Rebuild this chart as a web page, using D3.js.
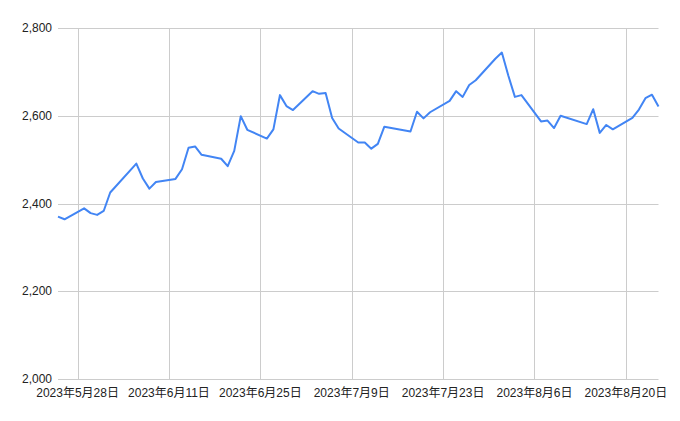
<!DOCTYPE html>
<html>
<head>
<meta charset="utf-8">
<script src="https://cdn.jsdelivr.net/npm/d3@7"></script>
<style>
  body { margin: 0; background: #fff; }
  text { font-family: "Liberation Sans", Arial, "Noto Sans CJK JP", sans-serif; font-size: 12px; fill: #222; }
</style>
</head>
<body>
<svg width="680" height="421"></svg>
<script>
const dates = [
  "2023-05-25","2023-05-26","2023-05-29","2023-05-30","2023-05-31","2023-06-01","2023-06-02",
  "2023-06-06","2023-06-07","2023-06-08","2023-06-09","2023-06-12","2023-06-13","2023-06-14",
  "2023-06-15","2023-06-16","2023-06-19","2023-06-20","2023-06-21","2023-06-22","2023-06-23",
  "2023-06-26","2023-06-27","2023-06-28","2023-06-29","2023-06-30","2023-07-03","2023-07-04",
  "2023-07-05","2023-07-06","2023-07-07","2023-07-10","2023-07-11","2023-07-12","2023-07-13",
  "2023-07-14","2023-07-18","2023-07-19","2023-07-20","2023-07-21","2023-07-24","2023-07-25",
  "2023-07-26","2023-07-27","2023-07-28","2023-07-31","2023-08-01","2023-08-02","2023-08-03",
  "2023-08-04","2023-08-07","2023-08-08","2023-08-09","2023-08-10","2023-08-14","2023-08-15",
  "2023-08-16","2023-08-17","2023-08-18","2023-08-21","2023-08-22","2023-08-23","2023-08-24",
  "2023-08-25"
];
const prices = [
  2370, 2364, 2389, 2378, 2374, 2383, 2425,
  2491, 2457, 2434, 2449, 2456, 2478, 2527,
  2530, 2511, 2502, 2485, 2520, 2599, 2568,
  2548, 2569, 2647, 2622, 2613, 2656, 2650,
  2652, 2595, 2571, 2539, 2539, 2525, 2536,
  2575, 2564, 2609, 2594, 2608, 2634, 2656,
  2643, 2670, 2681, 2730, 2744, 2691, 2643,
  2647, 2587, 2589, 2572, 2600, 2581, 2615,
  2561, 2579, 2569, 2595, 2614, 2640, 2648,
  2621
];
const yTicks = [2000, 2200, 2400, 2600, 2800];
const xTicks = ["2023-05-28","2023-06-11","2023-06-25","2023-07-09","2023-07-23","2023-08-06","2023-08-20"];

const parse = d3.timeParse("%Y-%m-%d");
const data = dates.map((d, i) => ({ date: parse(d), value: prices[i] }));

const svg = d3.select("svg");
const plotLeft = 58, plotRight = 658.5, plotTop = 28, plotBottom = 379;

const x = d3.scaleTime()
  .domain([parse("2023-05-25"), parse("2023-08-25")])
  .range([plotLeft, plotRight]);
const y = d3.scaleLinear()
  .domain([2000, 2800])
  .range([plotBottom, plotTop]);

// horizontal grid
svg.append("g")
  .selectAll("line")
  .data(yTicks)
  .enter()
  .append("line")
  .attr("x1", plotLeft)
  .attr("x2", plotRight)
  .attr("y1", d => Math.round(y(d)) + 0.5)
  .attr("y2", d => Math.round(y(d)) + 0.5)
  .attr("stroke", "#cccccc");

// vertical grid
svg.append("g")
  .selectAll("line")
  .data(xTicks)
  .enter()
  .append("line")
  .attr("x1", d => Math.round(x(parse(d))) + 0.5)
  .attr("x2", d => Math.round(x(parse(d))) + 0.5)
  .attr("y1", plotTop)
  .attr("y2", plotBottom)
  .attr("stroke", "#cccccc");

// y labels
svg.append("g")
  .selectAll("text")
  .data(yTicks)
  .enter()
  .append("text")
  .attr("x", plotLeft - 6)
  .attr("y", d => y(d) + 4)
  .attr("text-anchor", "end")
  .text(d3.format(","));

// x labels
const fmt = d => `${d.getFullYear()}年${d.getMonth() + 1}月${d.getDate()}日`;
svg.append("g")
  .selectAll("text")
  .data(xTicks)
  .enter()
  .append("text")
  .attr("x", d => x(parse(d)))
  .attr("y", 397)
  .attr("text-anchor", "middle")
  .text(d => fmt(parse(d)));

const line = d3.line()
  .x(d => x(d.date))
  .y(d => y(d.value));

svg.append("path")
  .datum(data)
  .attr("fill", "none")
  .attr("stroke", "#4285f4")
  .attr("stroke-width", 2)
  .attr("stroke-linejoin", "round")
  .attr("d", line);
</script>
</body>
</html>
